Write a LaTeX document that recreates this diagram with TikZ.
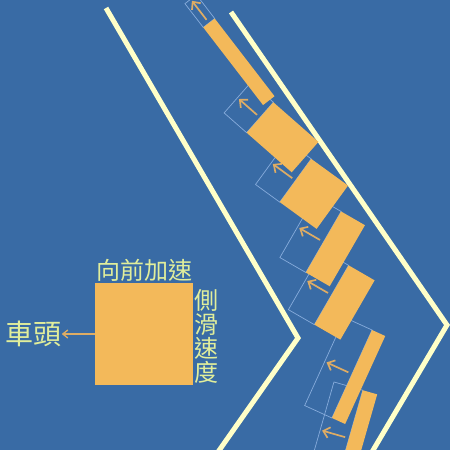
\documentclass[tikz,border=0pt]{standalone}
\usepackage{fontspec}
\newfontfamily\cjk{Noto Sans CJK TC}
\usepackage{tikz}
\usetikzlibrary{positioning, arrows.meta}
\usepackage{xcolor}
\definecolor{bgblue}{RGB}{57,107,165}
\definecolor{roadline}{RGB}{255,255,200}
\definecolor{carorange}{RGB}{243,185,90}
\definecolor{ghostblue}{RGB}{135,172,220}
\definecolor{arrowtan}{RGB}{222,172,100}
\definecolor{labelyellow}{RGB}{225,238,155}

\begin{document}
\begin{tikzpicture}[x=1pt,y=1pt,
    road/.style={draw=roadline,line width=5pt},
    ghost/.style={draw=ghostblue,line width=0.7pt},
    body/.style={fill=carorange},
    heading/.style={draw=arrowtan,line width=1.7pt,-{Straight Barb[length=6pt,width=11pt]}},
    txt/.style={text=labelyellow,inner sep=0pt,font=\cjk\fontsize{24}{24}\selectfont}]
    \useasboundingbox (0,0) rectangle (450,450);
    \fill[bgblue] (0,0) rectangle (450,450);
    \clip (0,0) rectangle (450,450);

    % road edges
    \draw[road] (106,442) -- (298,112) -- (218,-2);
    \draw[road] (231,438) -- (447,125) -- (372,-2);

    % car frames: x/y of front edge, heading, width, length
    \foreach \px/\py/\ang/\wd/\ln in {209/427/127.6/14.5/98, 260/332.5/138.7/40.5/60,
        295.5/269.5/144/53.5/45.5, 323.5/208/150/70.5/27.5, 331.5/155/150/68.5/30,
        352/76/155.5/96.7/14.5, 349/11.7/164/100/15} {
        \begin{scope}[shift={(\px,\py)},rotate=\ang]
            \draw[ghost] (0,-\wd/2) rectangle (30,\wd/2);
            \draw[heading] (4,0) -- (28,0);
        \end{scope}
    }
    \foreach \px/\py/\ang/\wd/\ln in {209/427/127.6/14.5/98, 260/332.5/138.7/40.5/60,
        295.5/269.5/144/53.5/45.5, 323.5/208/150/70.5/27.5, 331.5/155/150/68.5/30,
        352/76/155.5/96.7/14.5, 349/11.7/164/100/15} {
        \begin{scope}[shift={(\px,\py)},rotate=\ang]
            \fill[body] (0,-\wd/2) rectangle (-\ln,\wd/2);
        \end{scope}
    }

    % legend
    \node[body,minimum width=98pt,minimum height=102pt,inner sep=0pt] (legend) at (144,116) {};
    \node[txt,above=1pt of legend] (accel) {向前加速};
    \node[txt,anchor=north west,align=center] (slip) at ([xshift=1pt,yshift=-6pt]legend.north east) {側\\滑\\速\\度};
    \node[txt,font=\cjk\fontsize{28}{28}\selectfont,left=33pt of legend] (head) {車頭};
    \draw[draw=arrowtan,line width=1.3pt,-{Straight Barb[length=5pt,width=8pt]}] (legend.west) -- (head.east);
\end{tikzpicture}
\end{document}
